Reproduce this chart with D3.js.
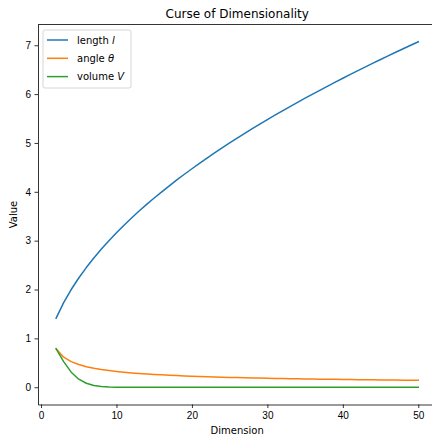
<!DOCTYPE html>
<html>
<head>
<meta charset="utf-8">
<script src="https://cdn.jsdelivr.net/npm/d3@7"></script>
<style>
    body { margin: 0; background: #fff; }
    svg { display: block; font-family: "DejaVu Sans", sans-serif; }
    .axis path, .axis line { stroke: #000; stroke-width: 0.8; }
    .axis text { font-size: 10px; fill: #000; }
</style>
</head>
<body>
<div class="container"></div>
<script>
const WIDTH = 432;
const HEIGHT = 435;

const LEFT = 38;
const RIGHT = 436.4;
const TOP = 24.5;
const BOTTOM = 404.5;

// dimensions 2..50
var dims = [2, 3, 4, 5, 6, 7, 8, 9, 10, 11, 12, 13, 14, 15, 16, 17, 18, 19, 20, 21, 22, 23, 24, 25, 26,
    27, 28, 29, 30, 31, 32, 33, 34, 35, 36, 37, 38, 39, 40, 41, 42, 43, 44, 45, 46, 47, 48, 49, 50];

var lengthValues = [1.414, 1.732, 2.000, 2.236, 2.449, 2.646, 2.828, 3.000, 3.162, 3.317, 3.464, 3.606,
    3.742, 3.873, 4.000, 4.123, 4.243, 4.359, 4.472, 4.583, 4.690, 4.796, 4.899, 5.000, 5.099, 5.196,
    5.292, 5.385, 5.477, 5.568, 5.657, 5.745, 5.831, 5.916, 6.000, 6.083, 6.164, 6.245, 6.325, 6.403,
    6.481, 6.557, 6.633, 6.708, 6.782, 6.856, 6.928, 7.000, 7.071];

var angleValues = [0.785, 0.616, 0.524, 0.464, 0.421, 0.388, 0.361, 0.340, 0.322, 0.306, 0.293, 0.281,
    0.271, 0.261, 0.253, 0.245, 0.238, 0.232, 0.226, 0.220, 0.215, 0.210, 0.206, 0.201, 0.197, 0.194,
    0.190, 0.187, 0.184, 0.181, 0.178, 0.175, 0.172, 0.170, 0.167, 0.165, 0.163, 0.161, 0.159, 0.157,
    0.155, 0.153, 0.151, 0.150, 0.148, 0.146, 0.145, 0.143, 0.142];

var volumeValues = [0.785, 0.524, 0.308, 0.164, 0.081, 0.037, 0.016, 0.006, 0.002, 0.001, 0.0003, 0.0001,
    0, 0, 0, 0, 0, 0, 0, 0, 0, 0, 0, 0, 0, 0, 0, 0, 0, 0, 0, 0, 0, 0, 0, 0, 0, 0, 0, 0, 0, 0, 0, 0, 0, 0,
    0, 0, 0];

var xTicks = [0, 10, 20, 30, 40, 50];
var yTicks = [0, 1, 2, 3, 4, 5, 6, 7];

var series = [
    {name: 'length ', sym: 'l', color: '#1f77b4', values: lengthValues},
    {name: 'angle ', sym: 'θ', color: '#ff7f0e', values: angleValues},
    {name: 'volume ', sym: 'V', color: '#2ca02c', values: volumeValues}
];

var _xScale = d3.scaleLinear().domain([-0.4, 52.4]).range([LEFT, RIGHT]);
var _yScale = d3.scaleLinear().domain([-0.3536, 7.4246]).range([BOTTOM, TOP]);

var _svg;

var createSvg = function () {
    _svg = d3.select('.container').append('svg').attr('width', WIDTH).attr('height', HEIGHT);
    _svg.append('defs').append('clipPath').attr('id', 'plotclip')
        .append('rect')
        .attr('x', LEFT).attr('y', TOP)
        .attr('width', RIGHT - LEFT).attr('height', BOTTOM - TOP);
};

var drawLines = function () {
    var g = _svg.append('g').attr('clip-path', 'url(#plotclip)');
    series.forEach(function (s) {
        var line = d3.line()
            .x(function (d, i) { return _xScale(dims[i]); })
            .y(function (d) { return _yScale(d); });
        g.append('path')
            .datum(s.values)
            .attr('d', line)
            .attr('fill', 'none')
            .attr('stroke', s.color)
            .attr('stroke-width', 1.5)
            .attr('stroke-linejoin', 'round')
            .attr('stroke-linecap', 'square');
    });
};

var drawAxis = function () {
    var xAxis = d3.axisBottom(_xScale).tickValues(xTicks).tickSize(3.5).tickPadding(3.5).tickSizeOuter(0);
    var yAxis = d3.axisLeft(_yScale).tickValues(yTicks).tickSize(3.5).tickPadding(3.5).tickSizeOuter(0);

    _svg.append('g').attr('class', 'axis')
        .attr('transform', 'translate(0,' + BOTTOM + ')')
        .call(xAxis);

    _svg.append('g').attr('class', 'axis')
        .attr('transform', 'translate(' + LEFT + ',0)')
        .call(yAxis);

    // top spine (right spine is off the picture)
    _svg.append('line')
        .attr('x1', LEFT).attr('x2', RIGHT)
        .attr('y1', TOP).attr('y2', TOP)
        .attr('stroke', '#000').attr('stroke-width', 0.8);

    _svg.append('text')
        .attr('x', (LEFT + RIGHT) / 2).attr('y', 18)
        .attr('text-anchor', 'middle')
        .attr('font-size', 12)
        .text('Curse of Dimensionality');

    _svg.append('text')
        .attr('x', (LEFT + RIGHT) / 2).attr('y', 434)
        .attr('text-anchor', 'middle')
        .attr('font-size', 10)
        .text('Dimension');

    _svg.append('text')
        .attr('transform', 'translate(17,' + ((TOP + BOTTOM) / 2) + ') rotate(-90)')
        .attr('text-anchor', 'middle')
        .attr('font-size', 10)
        .text('Value');
};

var drawLegend = function () {
    var lg = _svg.append('g').attr('transform', 'translate(43,30)');
    lg.append('rect')
        .attr('width', 88).attr('height', 58)
        .attr('rx', 2).attr('ry', 2)
        .attr('fill', '#fff').attr('fill-opacity', 0.8)
        .attr('stroke', '#ccc').attr('stroke-width', 0.8);

    series.forEach(function (s, i) {
        var y = 10 + i * 18.3;
        lg.append('line')
            .attr('x1', 4).attr('x2', 25)
            .attr('y1', y).attr('y2', y)
            .attr('stroke', s.color).attr('stroke-width', 1.5);
        var t = lg.append('text')
            .attr('x', 34).attr('y', y + 3.5)
            .attr('font-size', 10);
        t.append('tspan').text(s.name);
        t.append('tspan').attr('font-style', 'italic').text(s.sym);
    });
};

window.onload = function () {
    createSvg();
    drawLines();
    drawAxis();
    drawLegend();
};
</script>
</body>
</html>
